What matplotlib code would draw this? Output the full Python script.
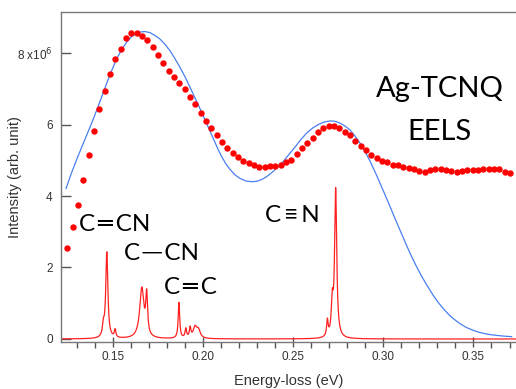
import numpy as np
import matplotlib
matplotlib.use("Agg")
import matplotlib.pyplot as plt

# ---- Experimental EELS data (red dots) ----
exp_x_start = 0.1248
exp_x_stop = 0.3703
exp_y = [2.55, 3.12, 3.75, 4.45, 5.14, 5.82, 6.43, 6.95, 7.41, 7.83,
         8.12, 8.41, 8.56, 8.57, 8.48, 8.36, 8.16, 7.94, 7.72, 7.50,
         7.33, 7.15, 6.98, 6.78, 6.56, 6.31, 6.10, 5.89, 5.72, 5.51,
         5.33, 5.19, 5.10, 4.99, 4.92, 4.87, 4.81, 4.81, 4.85, 4.84,
         4.87, 4.95, 5.01, 5.17, 5.33, 5.48, 5.62, 5.79, 5.90, 5.96,
         5.96, 5.89, 5.79, 5.71, 5.54, 5.41, 5.29, 5.15, 5.06, 4.98,
         4.94, 4.88, 4.86, 4.82, 4.79, 4.76, 4.71, 4.68, 4.73, 4.76,
         4.75, 4.73, 4.71, 4.68, 4.71, 4.72, 4.73, 4.74, 4.75, 4.75,
         4.76, 4.76, 4.68, 4.65]
exp_x = np.linspace(exp_x_start, exp_x_stop, len(exp_y))

# ---- Fit curve (blue) ----
fit_x = [0.1241, 0.1270, 0.1300, 0.1328, 0.1356, 0.1384, 0.1411, 0.1439,
         0.1467, 0.1495, 0.1522, 0.1550, 0.1578, 0.1605, 0.1633, 0.1656,
         0.1679, 0.1706, 0.1734, 0.1762, 0.1790, 0.1818, 0.1845, 0.1873,
         0.1901, 0.1924, 0.1947, 0.1975, 0.2002, 0.2030, 0.2058, 0.2080,
         0.2102, 0.2126, 0.2151, 0.2178, 0.2206, 0.2238, 0.2271, 0.2298,
         0.2326, 0.2353, 0.2381, 0.2413, 0.2446, 0.2478, 0.2511, 0.2543,
         0.2575, 0.2608, 0.2640, 0.2672, 0.2705, 0.2732, 0.2760, 0.2787,
         0.2815, 0.2843, 0.2871, 0.2898, 0.2926, 0.2954, 0.2982, 0.3010,
         0.3038, 0.3066, 0.3094, 0.3122, 0.3150, 0.3180, 0.3210, 0.3240,
         0.3277, 0.3305, 0.3333, 0.3360, 0.3388, 0.3425, 0.3462, 0.3500,
         0.3536, 0.3582, 0.3629, 0.3670, 0.3712]
fit_y = [4.21, 4.63, 5.02, 5.37, 5.71, 6.05, 6.40, 6.78,
         7.16, 7.52, 7.84, 8.10, 8.31, 8.46, 8.55, 8.59,
         8.60, 8.57, 8.49, 8.39, 8.24, 8.06, 7.84, 7.60,
         7.33, 7.09, 6.84, 6.54, 6.24, 5.92, 5.60, 5.35,
         5.12, 4.91, 4.74, 4.59, 4.49, 4.42, 4.40, 4.41,
         4.46, 4.54, 4.65, 4.80, 4.97, 5.17, 5.37, 5.58,
         5.76, 5.90, 6.00, 6.07, 6.10, 6.09, 6.04, 5.96,
         5.85, 5.68, 5.48, 5.25, 4.98, 4.68, 4.36, 4.03,
         3.70, 3.36, 3.03, 2.70, 2.38, 2.07, 1.78, 1.52,
         1.22, 1.02, 0.85, 0.70, 0.57, 0.43, 0.32, 0.24,
         0.18, 0.13, 0.10, 0.08, 0.065]

# ---- Calculated vibrational lines (red spectrum): centers, heights, half-widths ----
peak_centers = [0.1448, 0.1467, 0.1513, 0.1661, 0.1688, 0.1867,
                0.1905, 0.1929, 0.1956, 0.1975, 0.2690, 0.2717, 0.2736]
peak_heights = [0.30, 2.40, 0.22, 1.40, 1.10, 1.00,
                0.26, 0.28, 0.30, 0.22, 0.45, 0.90, 4.15]
peak_hwhm = [0.0006, 0.0007, 0.0005, 0.0014, 0.0006, 0.0005,
             0.0005, 0.0005, 0.0012, 0.0012, 0.0005, 0.0006, 0.0007]

x_ticks = [0.15, 0.20, 0.25, 0.30, 0.35]
x_tick_labels = ["0.15", "0.20", "0.25", "0.30", "0.35"]
y_ticks = [0, 2, 4, 6, 8]
y_tick_labels = ["0", "2", "4", "6", "8 x10$^6$"]

fig = plt.figure(figsize=(5.16, 3.89), dpi=100)
ax = fig.add_axes([61/516, 47/389, 1 - 61/516, (342-12)/389])

xs = np.linspace(0.1213, 0.3736, 6000)
spec = np.zeros_like(xs)
for c, h, w in zip(peak_centers, peak_heights, peak_hwhm):
    spec += h * w**2 / ((xs - c)**2 + w**2)

ax.plot(xs, spec, color="#ff2020", lw=0.9, zorder=2)
ax.plot(fit_x, fit_y, color="#4a7ff0", lw=0.9, zorder=3, solid_joinstyle="round")
ax.plot(exp_x, exp_y, 'o', color="#ff0000", ms=4.6, mec="none", zorder=4)

ax.set_xlim(0.1213, 0.3736)
ax.set_ylim(-0.084, 9.147)

ax.spines['right'].set_visible(False)
for s in ['left', 'top', 'bottom']:
    ax.spines[s].set_color("#777777")
    ax.spines[s].set_linewidth(1.0)

ax.set_xticks(x_ticks)
ax.set_xticklabels(x_tick_labels)
ax.set_xticks(np.arange(0.13, 0.375, 0.01), minor=True)
ax.set_yticks(y_ticks)
ax.set_yticklabels(y_tick_labels)

ax.tick_params(axis='x', which='major', direction='inout', length=7, width=1,
               color="#555555", labelsize=8.5, labelcolor="#333333", pad=3)
ax.tick_params(axis='x', which='minor', direction='out', length=4, width=1,
               color="#555555")
ax.tick_params(axis='y', which='major', direction='in', length=7, width=1,
               color="#555555", labelsize=8.5, labelcolor="#333333", pad=6)
for lab in ax.get_xticklabels() + ax.get_yticklabels():
    lab.set_family("Liberation Sans")

ax.set_xlabel("Energy-loss (eV)", fontsize=10.5, color="#333333",
              family="Liberation Sans", labelpad=8)
ax.set_ylabel("Intensity (arb. unit)", fontsize=10.5, color="#333333",
              family="Liberation Sans")
ax.yaxis.set_label_coords(-0.086, 0.5)

def to_y(py):
    return (339 - py) / 35.75

big = dict(family="Lato", color="black", fontsize=21, ha="center", va="baseline")
ax.text(0.3314, to_y(97.3), "Ag-TCNQ", **big)
ax.text(0.3314, to_y(140), "EELS", **big)

mid = dict(family=["Lato", "DejaVu Sans"], color="black", fontsize=17.5,
           ha="left", va="baseline")
ax.text(0.1313, to_y(231), "C\u2009\u2550\u2009CN", **mid)
ax.text(0.1565, to_y(260), "C\u2009\u2500\u2009CN", **mid)
ax.text(0.1785, to_y(294), "C\u2009\u2550\u2009C", **mid)
ax.text(0.2342, to_y(222.3), "C\u2009\u2261\u2009N", **mid)

fig.savefig("out.png", dpi=100)
